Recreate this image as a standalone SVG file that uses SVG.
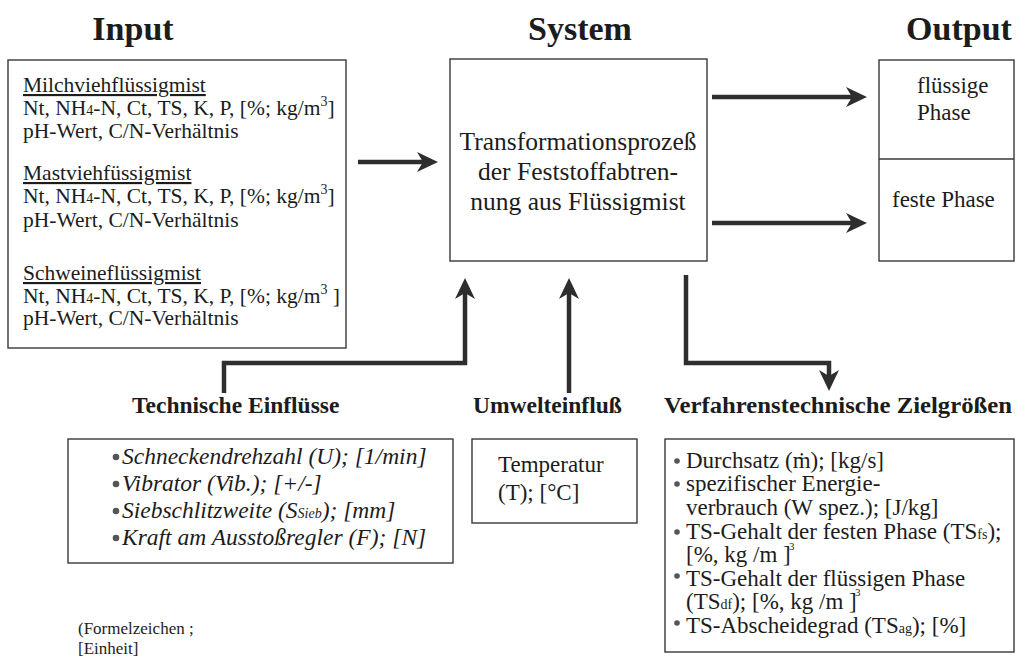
<svg xmlns="http://www.w3.org/2000/svg" width="1017" height="663" viewBox="0 0 1017 663">
  <style>
    text { font-family: "Liberation Serif", "Times New Roman", serif; fill: #1c1c1c; }
    .title { font-size: 34px; font-weight: bold; text-anchor: middle; }
    .head { font-size: 23.5px; font-weight: bold; }
    .inp { font-size: 21.5px; }
    .sys { font-size: 25.5px; text-anchor: middle; }
    .out { font-size: 23px; }
    .ital { font-size: 23.5px; font-style: italic; }
    .note { font-size: 17px; }
    .ul { text-decoration: underline; }
    .box { fill: none; stroke: #383838; stroke-width: 1.4; }
    .conn { fill: none; stroke: #2e2e2e; stroke-width: 4.5; stroke-linejoin: miter; marker-end: url(#head); }
    .dot { fill: #555; }
  </style>
  <defs>
    <marker id="head" markerUnits="userSpaceOnUse" viewBox="0 0 22 22" markerWidth="22" markerHeight="22" refX="10" refY="11" orient="auto">
      <path d="M0,1 L21,11 L0,21 L6,11 Z" fill="#2e2e2e"/>
    </marker>
  </defs>
  <rect width="1017" height="663" fill="#ffffff"/>

  <!-- column titles -->
  <g id="titles">
    <text class="title" x="133" y="40">Input</text>
    <text class="title" x="580" y="40">System</text>
    <text class="title" x="959" y="40">Output</text>
  </g>

  <!-- input: three kinds of liquid manure -->
  <g id="input">
    <rect class="box" x="8" y="60" width="338" height="288"/>
    <text class="inp ul" x="23" y="92">Milchviehflüssigmist</text>
    <text class="inp" x="23" y="115">Nt, NH<tspan font-size="14">4</tspan>-N, Ct, TS, K, P, [%; kg/m<tspan font-size="14" dy="-9">3</tspan><tspan dy="9">]</tspan></text>
    <text class="inp" x="23" y="138">pH-Wert, C/N-Verhältnis</text>
    <text class="inp ul" x="23" y="180">Mastviehfüssigmist</text>
    <text class="inp" x="23" y="203">Nt, NH<tspan font-size="14">4</tspan>-N, Ct, TS, K, P, [%; kg/m<tspan font-size="14" dy="-9">3</tspan><tspan dy="9">]</tspan></text>
    <text class="inp" x="23" y="227">pH-Wert, C/N-Verhältnis</text>
    <text class="inp ul" x="23" y="280">Schweineflüssigmist</text>
    <text class="inp" x="23" y="303">Nt, NH<tspan font-size="14">4</tspan>-N, Ct, TS, K, P, [%; kg/m<tspan font-size="14" dy="-9">3</tspan><tspan dy="9"> ]</tspan></text>
    <text class="inp" x="23" y="325">pH-Wert, C/N-Verhältnis</text>
  </g>

  <!-- system: separation process -->
  <g id="system">
    <rect class="box" x="450" y="59" width="257" height="202"/>
    <text class="sys" x="578" y="150">Transformationsprozeß</text>
    <text class="sys" x="578" y="180">der Feststoffabtren-</text>
    <text class="sys" x="578" y="210">nung aus Flüssigmist</text>
  </g>

  <!-- output: liquid and solid phase -->
  <g id="output">
    <rect class="box" x="879" y="60" width="135" height="201"/>
    <line class="box" x1="879" y1="159" x2="1014" y2="159"/>
    <text class="out" x="917" y="93">flüssige</text>
    <text class="out" x="917" y="120">Phase</text>
    <text class="out" x="892" y="207">feste Phase</text>
  </g>

  <!-- technical influences -->
  <g id="technisch">
    <text class="head" x="132" y="413">Technische Einflüsse</text>
    <rect class="box" x="68" y="439" width="385" height="124"/>
    <circle class="dot" cx="116" cy="457" r="3.3"/>
    <circle class="dot" cx="116" cy="484" r="3.3"/>
    <circle class="dot" cx="116" cy="511" r="3.3"/>
    <circle class="dot" cx="116" cy="538" r="3.3"/>
    <text class="ital" x="122" y="464">Schneckendrehzahl (U); [1/min]</text>
    <text class="ital" x="122" y="491">Vibrator (Vib.); [+/-]</text>
    <text class="ital" x="122" y="518">Siebschlitzweite (S<tspan font-size="14">Sieb</tspan>); [mm]</text>
    <text class="ital" x="122" y="545">Kraft am Ausstoßregler (F); [N]</text>
  </g>

  <!-- environmental influence -->
  <g id="umwelt">
    <text class="head" x="473" y="413">Umwelteinfluß</text>
    <rect class="box" x="472" y="439" width="165" height="84"/>
    <text class="out" x="498" y="472">Temperatur</text>
    <text class="out" x="498" y="500">(T); [°C]</text>
  </g>

  <!-- process target values -->
  <g id="ziel">
    <text class="head" x="664" y="413" textLength="348" lengthAdjust="spacingAndGlyphs">Verfahrenstechnische Zielgrößen</text>
    <rect class="box" x="665" y="439" width="349" height="213"/>
    <circle class="dot" cx="677" cy="461" r="2.8"/>
    <circle class="dot" cx="677" cy="484" r="2.8"/>
    <circle class="dot" cx="677" cy="532" r="2.8"/>
    <circle class="dot" cx="677" cy="576" r="2.8"/>
    <circle class="dot" cx="677" cy="623" r="2.8"/>
    <text class="out" x="686" y="468">Durchsatz (ṁ); [kg/s]</text>
    <text class="out" x="686" y="491">spezifischer Energie-</text>
    <text class="out" x="686" y="515">verbrauch (W spez.); [J/kg]</text>
    <text class="out" x="686" y="539">TS-Gehalt der festen Phase (TS<tspan font-size="14">fs</tspan>);</text>
    <text class="out" x="686" y="562">[%, kg /m ]<tspan x="789" dy="-12" font-size="11">3</tspan></text>
    <text class="out" x="686" y="586">TS-Gehalt der flüssigen Phase</text>
    <text class="out" x="686" y="609">(TS<tspan font-size="14">df</tspan>); [%, kg /m ]<tspan x="855" dy="-13" font-size="11">3</tspan></text>
    <text class="out" x="686" y="633">TS-Abscheidegrad (TS<tspan font-size="14">ag</tspan>); [%]</text>
  </g>

  <!-- legend -->
  <g id="legende">
    <text class="note" x="78" y="634">(Formelzeichen ;</text>
    <text class="note" x="78" y="654">[Einheit]</text>
  </g>

  <!-- connectors -->
  <g id="connectors">
    <path class="conn" d="M358,162 H427"/>
    <path class="conn" d="M712,97 H856"/>
    <path class="conn" d="M712,223 H856"/>
    <path class="conn" d="M224,393 V363 H465 V289"/>
    <path class="conn" d="M569,393 V289"/>
    <path class="conn" d="M686,275 V363 H829 V380"/>
  </g>
</svg>
